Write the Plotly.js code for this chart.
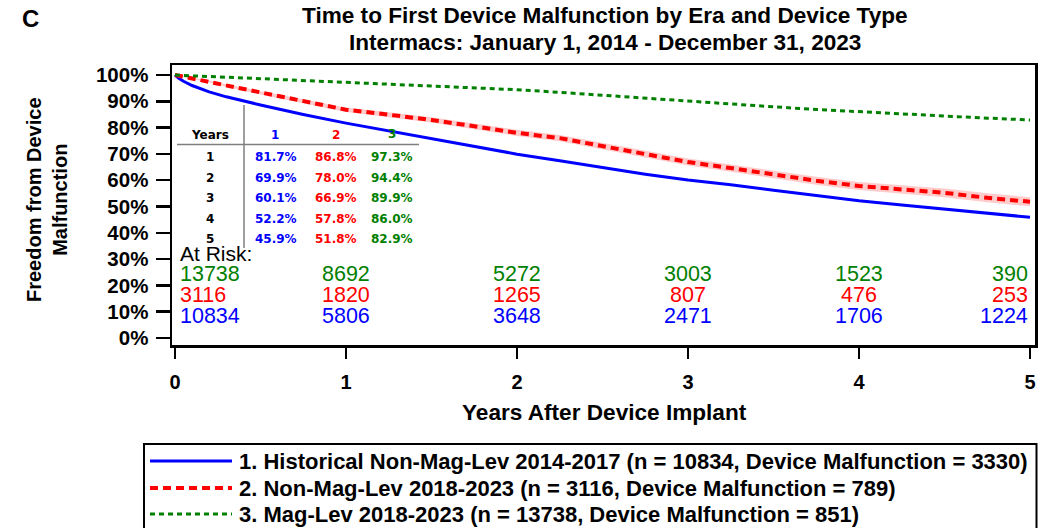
<!DOCTYPE html>
<html>
<head>
<meta charset="utf-8">
<script src="https://cdn.plot.ly/plotly-3.0.1.min.js"></script>
<style>html,body{margin:0;padding:0;background:#fff;}#chart{width:1051px;height:528px;}</style>
</head>
<body>
<div id="chart"></div>
<script>
// ---- Data ----
const blueT = [0, 0.02, 0.05, 0.1, 0.2, 0.3, 0.5, 0.75, 1, 1.25, 1.5, 1.75, 2, 2.25, 2.5, 2.75, 3, 3.25, 3.5, 3.75, 4, 4.25, 4.5, 4.75, 5];
const blueS = [100, 98.8, 97.6, 96.0, 93.6, 91.7, 88.6, 85.0, 81.7, 78.7, 75.7, 72.8, 69.9, 67.4, 64.9, 62.3, 60.1, 58.3, 56.2, 54.2, 52.2, 50.6, 49.0, 47.5, 45.9];

const redT = [0, 0.03, 0.1, 0.2, 0.3, 0.5, 0.75, 1, 1.25, 1.5, 1.75, 2, 2.25, 2.5, 2.75, 3, 3.25, 3.5, 3.75, 4, 4.25, 4.5, 4.75, 5];
const redS = [100, 99.6, 98.8, 97.5, 96.0, 93.2, 90.0, 86.8, 84.9, 82.9, 80.5, 78.0, 76.0, 73.0, 69.8, 66.9, 64.6, 62.1, 59.8, 57.8, 56.5, 55.2, 53.3, 51.8];
const redHi = [100, 99.7, 99.1, 97.9, 96.5, 93.8, 90.75, 87.65, 85.85, 83.9, 81.6, 79.15, 77.2, 74.25, 71.1, 68.25, 66.0, 63.55, 61.3, 59.35, 58.1, 56.85, 55.0, 53.55];
const redLo = [100, 99.5, 98.5, 97.1, 95.5, 92.6, 89.25, 85.95, 83.95, 81.9, 79.4, 76.85, 74.8, 71.75, 68.5, 65.55, 63.2, 60.65, 58.3, 56.25, 54.9, 53.55, 51.6, 50.05];

const greenT = [0, 0.05, 0.25, 0.5, 0.75, 1, 1.25, 1.5, 1.75, 2, 2.25, 2.5, 2.75, 3, 3.25, 3.5, 3.75, 4, 4.25, 4.5, 4.75, 5];
const greenS = [100, 99.8, 99.3, 98.6, 97.9, 97.3, 96.6, 95.9, 95.2, 94.4, 93.4, 92.3, 91.1, 89.9, 88.9, 87.9, 86.9, 86.0, 85.2, 84.4, 83.6, 82.9];

const seriesNames = [
  "1. Historical Non-Mag-Lev 2014-2017 (n = 10834, Device Malfunction = 3330)",
  "2. Non-Mag-Lev 2018-2023 (n = 3116, Device Malfunction = 789)",
  "3. Mag-Lev 2018-2023 (n = 13738, Device Malfunction = 851)"
];

const xTicks = [0, 1, 2, 3, 4, 5];
const yTicks = [0, 10, 20, 30, 40, 50, 60, 70, 80, 90, 100];

const atRiskYears = [0, 1, 2, 3, 4, 5];
const atRiskGreen = [13738, 8692, 5272, 3003, 1523, 390];
const atRiskRed = [3116, 1820, 1265, 807, 476, 253];
const atRiskBlue = [10834, 5806, 3648, 2471, 1706, 1224];

const tableYears = [1, 2, 3, 4, 5];
const tableBlue = ["81.7%", "69.9%", "60.1%", "52.2%", "45.9%"];
const tableRed = ["86.8%", "78.0%", "66.9%", "57.8%", "51.8%"];
const tableGreen = ["97.3%", "94.4%", "89.9%", "86.0%", "82.9%"];

// ---- Styling / layout ----
const BLUE = "#0000ff", RED = "#ff0000", GREEN = "#008000";
const F = "Liberation Sans, Arial, Helvetica, sans-serif";
const TF = "DejaVu Sans, Verdana, sans-serif";
const seriesStyles = [
  {color: BLUE, width: 3, dash: "solid"},
  {color: RED, width: 4, dash: "8px,5px"},
  {color: GREEN, width: 3, dash: "5px,4px"}
];

// plot area pixel geometry
const L = 172, R = 1035, T = 65, B = 345;
const W = R - L, H = B - T;
const px = x => (x - L) / W;      // pixel x -> paper x
const py = y => (B - y) / H;      // pixel y -> paper y

const traces = [
  {x: redT, y: redHi, mode: "lines", line: {width: 0, color: "rgba(0,0,0,0)"}, showlegend: false, hoverinfo: "skip"},
  {x: redT, y: redLo, mode: "lines", line: {width: 0, color: "rgba(0,0,0,0)"}, fill: "tonexty", fillcolor: "rgba(255,140,140,0.45)", showlegend: false, hoverinfo: "skip"},
  {x: blueT, y: blueS, mode: "lines", name: seriesNames[0], line: seriesStyles[0], showlegend: false},
  {x: redT, y: redS, mode: "lines", name: seriesNames[1], line: seriesStyles[1], showlegend: false},
  {x: greenT, y: greenS, mode: "lines", name: seriesNames[2], line: seriesStyles[2], showlegend: false}
];

const ann = [];
function add(text, xpx, ypx, opts) {
  ann.push(Object.assign({text: text, xref: "paper", yref: "paper", x: px(xpx), y: py(ypx),
    showarrow: false, xanchor: "center", yanchor: "middle"}, opts || {}));
}
// Titles
add("<b>C</b>", 30, 19, {font: {family: F, size: 24, color: "#000"}});
add("<b>Time to First Device Malfunction by Era and Device Type</b>", 605, 16, {font: {family: F, size: 22.6, color: "#000"}});
add("<b>Intermacs: January 1, 2014 - December 31, 2023</b>", 605, 42, {font: {family: F, size: 22.6, color: "#000"}});
add("<b>Freedom from Device<br>Malfunction</b>", 47, 200, {textangle: -90, font: {family: F, size: 20, color: "#000"}});
add("<b>Years After Device Implant</b>", 604, 412, {font: {family: F, size: 22.6, color: "#000"}});

// At-risk table (data x positions)
ann.push({text: "At Risk:", xref: "x", yref: "paper", x: 0.018, y: py(253), showarrow: false,
  xanchor: "left", yanchor: "middle", font: {family: F, size: 21, color: "#000"}});
const riskRows = [[atRiskGreen, GREEN, 274], [atRiskRed, RED, 295], [atRiskBlue, BLUE, 316]];
riskRows.forEach(([vals, col, ypx]) => {
  vals.forEach((v, i) => {
    const yr = atRiskYears[i];
    let xa = "center", xv = yr;
    if (i === 0) { xa = "left"; xv = 0.018; }
    if (i === vals.length - 1) { xa = "right"; }
    ann.push({text: String(v), xref: "x", yref: "paper", x: xv, y: py(ypx), showarrow: false,
      xanchor: xa, yanchor: "middle", font: {family: F, size: 21.5, color: col}});
  });
});

// Inner survival table
const tfont = c => ({family: TF, size: 12, color: c});
add("<b>Years</b>", 210, 135, {font: tfont("#000")});
add("<b>1</b>", 275, 135, {font: tfont(BLUE)});
add("<b>2</b>", 336, 135, {font: tfont(RED)});
add("<b>3</b>", 392, 134, {font: tfont(GREEN)});
const rowY = [157, 177.5, 198, 218.5, 238.5];
tableYears.forEach((yr, i) => {
  add("<b>" + yr + "</b>", 210, rowY[i], {font: tfont("#000")});
  add("<b>" + tableBlue[i] + "</b>", 276, rowY[i], {font: tfont(BLUE)});
  add("<b>" + tableRed[i] + "</b>", 336, rowY[i], {font: tfont(RED)});
  add("<b>" + tableGreen[i] + "</b>", 392, rowY[i], {font: tfont(GREEN)});
});

const shapes = [
  {type: "line", xref: "paper", yref: "paper", x0: px(177), x1: px(419), y0: py(144.5), y1: py(144.5), line: {color: "#7f7f7f", width: 1.5}},
  {type: "line", xref: "paper", yref: "paper", x0: px(244), x1: px(244), y0: py(105), y1: py(248), line: {color: "#7f7f7f", width: 1.5}},
  // legend box
  {type: "rect", xref: "paper", yref: "paper", x0: px(144), x1: px(1036.5), y0: py(444), y1: py(531), line: {color: "#000", width: 2}, fillcolor: "rgba(0,0,0,0)"}
];
// legend entries (sample line + label)
const legendRowY = [461, 488, 514];
seriesNames.forEach((name, i) => {
  shapes.push({type: "line", xref: "paper", yref: "paper", x0: px(150), x1: px(232), y0: py(legendRowY[i]), y1: py(legendRowY[i]),
    line: {color: seriesStyles[i].color, width: seriesStyles[i].width, dash: seriesStyles[i].dash}});
  add("<b>" + name + "</b>", 237, legendRowY[i], {xanchor: "left", font: {family: F, size: 22, color: "#000"}});
});

const layout = {
  width: 1051, height: 528,
  margin: {l: L, r: 1051 - R, t: T, b: 528 - B, pad: 0, autoexpand: false},
  paper_bgcolor: "#fff", plot_bgcolor: "#fff",
  showlegend: false,
  xaxis: {
    range: [-0.0175, 5.029], tickvals: xTicks, ticktext: xTicks.map(String),
    showgrid: false, zeroline: false, showline: true, mirror: true, linecolor: "#000", linewidth: 2.5,
    ticks: "outside", ticklen: 11, tickwidth: 2.5, tickcolor: "#000", ticklabelstandoff: 6,
    tickfont: {family: F, size: 20, color: "#000", weight: "bold"}, fixedrange: true, automargin: false
  },
  yaxis: {
    range: [-2.66, 103.8], tickvals: yTicks, ticktext: yTicks.map(v => v + "%"),
    showgrid: false, zeroline: false, showline: true, mirror: true, linecolor: "#000", linewidth: 2.5,
    ticks: "outside", ticklen: 14, tickwidth: 2.5, tickcolor: "#000", ticklabelstandoff: 3,
    tickfont: {family: F, size: 20.5, color: "#000", weight: "bold"}, fixedrange: true, automargin: false
  },
  annotations: ann,
  shapes: shapes
};

Plotly.newPlot("chart", traces, layout, {displayModeBar: false, staticPlot: true});
</script>
</body>
</html>
